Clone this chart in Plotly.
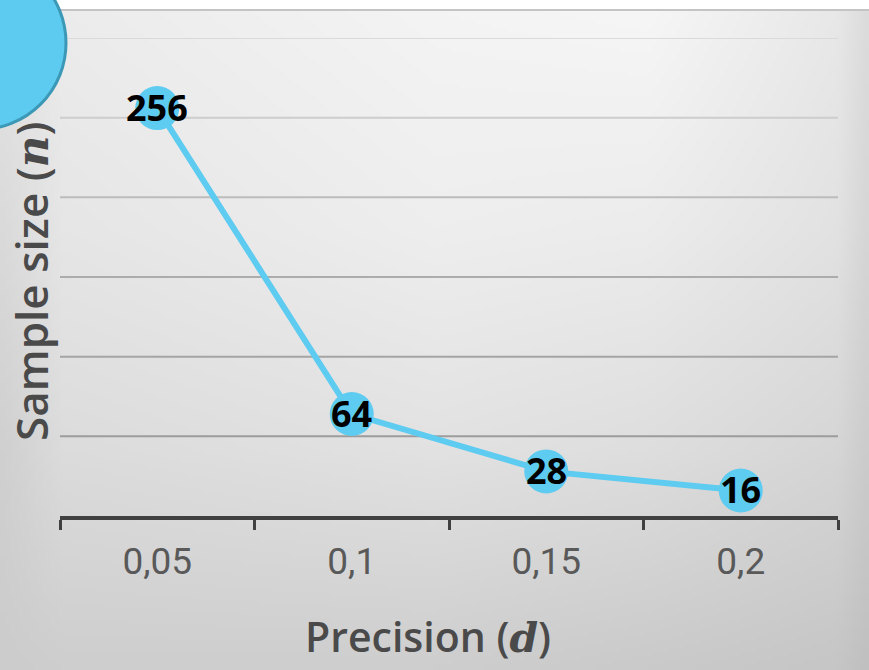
import base64, struct, zlib
import numpy as np
import plotly.graph_objects as go

# ---- data ----
precision_labels = ["0,05", "0,1", "0,15", "0,2"]
sample_sizes = [256, 64, 28, 16]
grid_values = [50, 100, 150, 200, 250, 300]
grid_colors = ["#9c9c9c", "#a4a4a4", "#acacac", "#bcbcbc", "#cdcdcd", "#dadada"]

W, H = 869, 670
L, R, T, B = 60, 31, 38, 154
PW, PH = W - L - R, H - T - B


def px_to_paper_x(px):
    return (px - L) / PW


def py_to_paper_y(py):
    return (H - B - py) / PH


# ---- background gradient image (decoration) ----
cx = np.array([0, 60, 434, 651, 840, 869], float)
cy = np.array([10, 230, 450, 670], float)
cv = np.array([
    [228, 236, 244, 246, 232, 220],
    [218, 230, 238, 236, 226, 214],
    [208, 220, 226, 222, 214, 204],
    [204, 206, 206, 202, 198, 192],
], float)
gw, gh = 218, 166
xs = np.linspace(0, 869, gw)
ys = np.linspace(10, 670, gh)
tmp = np.array([np.interp(xs, cx, row) for row in cv])  # 4 x gw
img = np.array([np.interp(ys, cy, tmp[:, j]) for j in range(gw)]).T  # gh x gw
img = np.clip(img, 0, 255).astype(np.uint8)


def png_bytes(a):
    h, w = a.shape
    raw = b"".join(b"\x00" + a[i].tobytes() for i in range(h))

    def chunk(tag, data):
        c = struct.pack(">I", len(data)) + tag + data
        return c + struct.pack(">I", zlib.crc32(tag + data) & 0xFFFFFFFF)

    return (b"\x89PNG\r\n\x1a\n" + chunk(b"IHDR", struct.pack(">IIBBBBB", w, h, 8, 0, 0, 0, 0))
            + chunk(b"IDAT", zlib.compress(raw, 9)) + chunk(b"IEND", b""))


bg_uri = "data:image/png;base64," + base64.b64encode(png_bytes(img)).decode()

fig = go.Figure()
fig.add_trace(go.Scatter(
    x=precision_labels, y=sample_sizes, mode="lines+markers",
    line=dict(color="#5ecbf0", width=6),
    marker=dict(size=44, color="#5ecbf0", line=dict(width=0)),
    cliponaxis=False, showlegend=False, hoverinfo="skip",
))

shapes = []
# top border line
shapes.append(dict(type="line", xref="paper", yref="paper",
                   x0=px_to_paper_x(0), x1=px_to_paper_x(W), y0=py_to_paper_y(10), y1=py_to_paper_y(10),
                   line=dict(color="#c4c4c4", width=2), layer="below"))
# gridlines
for gv, gc in zip(grid_values, grid_colors):
    shapes.append(dict(type="line", xref="paper", yref="y", x0=0, x1=1, y0=gv, y1=gv,
                       line=dict(color=gc, width=2), layer="below"))
# decorative circle top-left
shapes.append(dict(type="circle", xref="paper", yref="paper",
                   x0=px_to_paper_x(-107), x1=px_to_paper_x(66),
                   y0=py_to_paper_y(129.5), y1=py_to_paper_y(-43.5),
                   fillcolor="#5ccbef", line=dict(color="#3b98b6", width=3), layer="above"))

annotations = [
    dict(x=xc, y=yv, xref="x", yref="y", text=str(yv), showarrow=False,
         xanchor="center", yanchor="middle", yshift=1,
         font=dict(family="Open Sans", size=36, color="#000000", weight="bold"))
    for xc, yv in zip(precision_labels, sample_sizes)
]
annotations += [
    dict(text="Precision (<i><span style='font-family:DejaVu Serif'>d</span></i>)",
         xref="paper", yref="paper", x=px_to_paper_x(428), y=py_to_paper_y(636),
         xanchor="center", yanchor="middle", showarrow=False,
         font=dict(family="Open Sans", size=41, color="#4a4a4a", weight=600)),
    dict(text="Sample size (<i><span style='font-family:DejaVu Serif'>n</span></i>)",
         xref="paper", yref="paper", x=px_to_paper_x(31), y=py_to_paper_y(281),
         xanchor="center", yanchor="middle", showarrow=False, textangle=-90,
         font=dict(family="Open Sans", size=44, color="#4a4a4a", weight=600)),
]

fig.update_layout(
    width=W, height=H,
    margin=dict(l=L, r=R, t=T, b=B),
    paper_bgcolor="#ffffff", plot_bgcolor="rgba(0,0,0,0)",
    images=[dict(source=bg_uri, xref="paper", yref="paper",
                 x=px_to_paper_x(0), y=py_to_paper_y(10),
                 sizex=px_to_paper_x(W) - px_to_paper_x(0),
                 sizey=py_to_paper_y(10) - py_to_paper_y(H),
                 xanchor="left", yanchor="top", sizing="stretch", layer="below")],
    shapes=shapes,
    annotations=annotations,
    xaxis=dict(type="category", categoryorder="array", categoryarray=precision_labels,
               range=[-0.5, 3.5], tickson="boundaries", ticks="outside", ticklen=10,
               tickwidth=3, tickcolor="#404040", showline=True, linecolor="#404040",
               linewidth=4, showgrid=False, zeroline=False, ticklabelstandoff=10,
               tickfont=dict(family="Roboto", size=37, color="#595959"), fixedrange=True),
    yaxis=dict(range=[0, 300], showticklabels=False, showgrid=False, zeroline=False,
               showline=False, ticks="", fixedrange=True),
)

fig.write_html("out.html", config={"displayModeBar": False},
               post_script="document.body.style.margin='0';document.body.style.padding='0';")
